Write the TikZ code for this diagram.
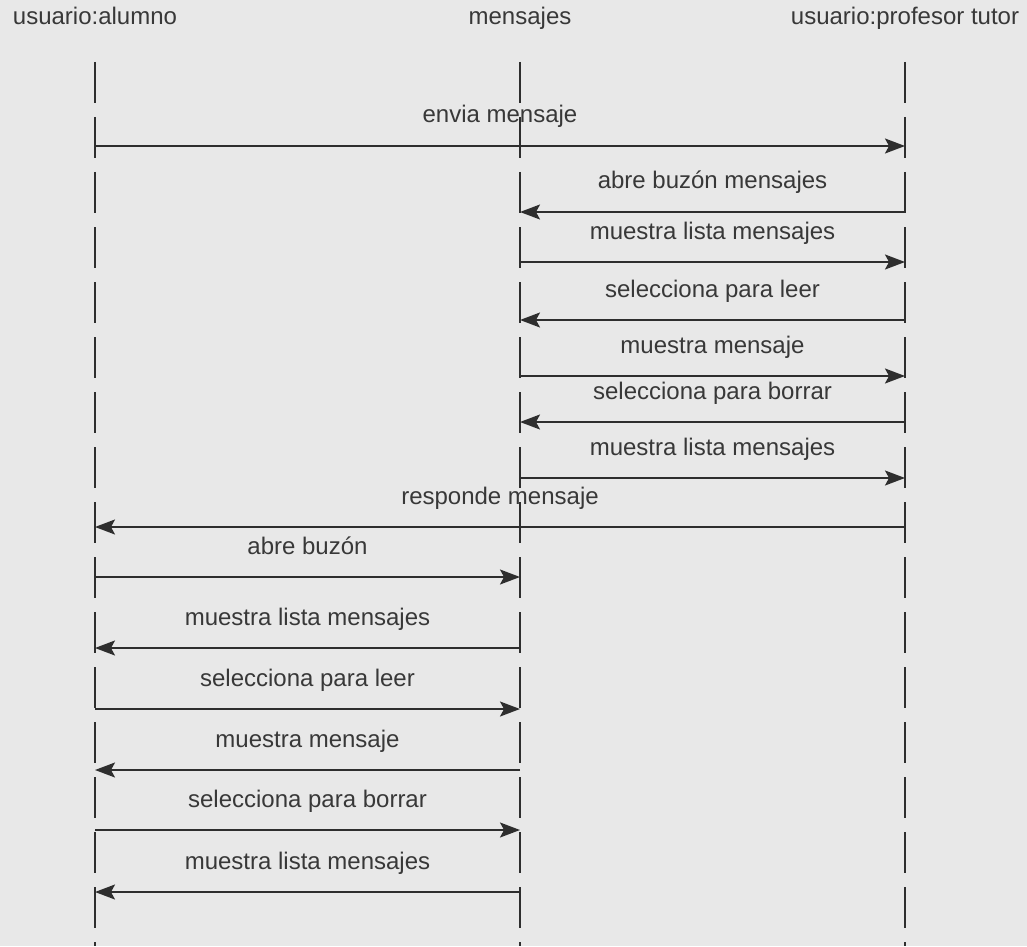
\documentclass[tikz,border=0pt]{standalone}
\usepackage{fontspec}
\setmainfont{Liberation Sans}
\usetikzlibrary{arrows.meta}
\definecolor{Paper}{HTML}{E8E8E8}
\definecolor{Ink}{HTML}{2E2E2E}
\definecolor{Tinta}{HTML}{383838}

\begin{document}
\begin{tikzpicture}[x=1pt, y=-1pt,
  every node/.style={font=\fontsize{24}{28}\selectfont, text=Tinta, inner sep=0pt},
  actor/.style={anchor=base},
  lifeline/.style={draw=Ink, line width=1.5pt, dash pattern=on 41pt off 14pt},
  msg/.style={draw=Ink, line width=1.7pt, -{Stealth[length=20pt, width=15pt, inset=4pt]}},
  lbl/.style={midway, anchor=base, yshift=23pt}]
% fondo
\fill[Paper] (0,0) rectangle (1027,946);

% objetos
\node[actor] (alumno) at (95,25) {usuario:alumno};
\node[actor] (mensajes) at (520,25) {mensajes};
\node[actor] (tutor) at (905,25) {usuario:profesor tutor};

% lineas de vida
\coordinate (alumno-ini) at (95,62);   \coordinate (alumno-fin) at (95,946);
\coordinate (mensajes-ini) at (520,62); \coordinate (mensajes-fin) at (520,946);
\coordinate (tutor-ini) at (905,62);   \coordinate (tutor-fin) at (905,946);
\draw[lifeline] (alumno-ini) -- (alumno-fin);
\draw[lifeline] (mensajes-ini) -- (mensajes-fin);
\draw[lifeline] (tutor-ini) -- (tutor-fin);

% alumno -> profesor
\coordinate (a1) at (95,146);  \coordinate (t1) at (905,146);
\draw[msg] (a1) -- node[lbl] {envia mensaje} (t1);

% profesor <-> mensajes
\coordinate (t2) at (905,212); \coordinate (m2) at (520,212);
\draw[msg] (t2) -- node[lbl] {abre buzón mensajes} (m2);
\coordinate (m3) at (520,262); \coordinate (t3) at (905,262);
\draw[msg] (m3) -- node[lbl] {muestra lista mensajes} (t3);
\coordinate (t4) at (905,320); \coordinate (m4) at (520,320);
\draw[msg] (t4) -- node[lbl] {selecciona para leer} (m4);
\coordinate (m5) at (520,376); \coordinate (t5) at (905,376);
\draw[msg] (m5) -- node[lbl] {muestra mensaje} (t5);
\coordinate (t6) at (905,422); \coordinate (m6) at (520,422);
\draw[msg] (t6) -- node[lbl] {selecciona para borrar} (m6);
\coordinate (m7) at (520,478); \coordinate (t7) at (905,478);
\draw[msg] (m7) -- node[lbl] {muestra lista mensajes} (t7);

% profesor -> alumno
\coordinate (t8) at (905,527); \coordinate (a8) at (95,527);
\draw[msg] (t8) -- node[lbl] {responde mensaje} (a8);

% alumno <-> mensajes
\coordinate (a9) at (95,577);  \coordinate (m9) at (520,577);
\draw[msg] (a9) -- node[lbl] {abre buzón} (m9);
\coordinate (m10) at (520,648); \coordinate (a10) at (95,648);
\draw[msg] (m10) -- node[lbl] {muestra lista mensajes} (a10);
\coordinate (a11) at (95,709);  \coordinate (m11) at (520,709);
\draw[msg] (a11) -- node[lbl] {selecciona para leer} (m11);
\coordinate (m12) at (520,770); \coordinate (a12) at (95,770);
\draw[msg] (m12) -- node[lbl] {muestra mensaje} (a12);
\coordinate (a13) at (95,830);  \coordinate (m13) at (520,830);
\draw[msg] (a13) -- node[lbl] {selecciona para borrar} (m13);
\coordinate (m14) at (520,892); \coordinate (a14) at (95,892);
\draw[msg] (m14) -- node[lbl] {muestra lista mensajes} (a14);
\end{tikzpicture}
\end{document}
